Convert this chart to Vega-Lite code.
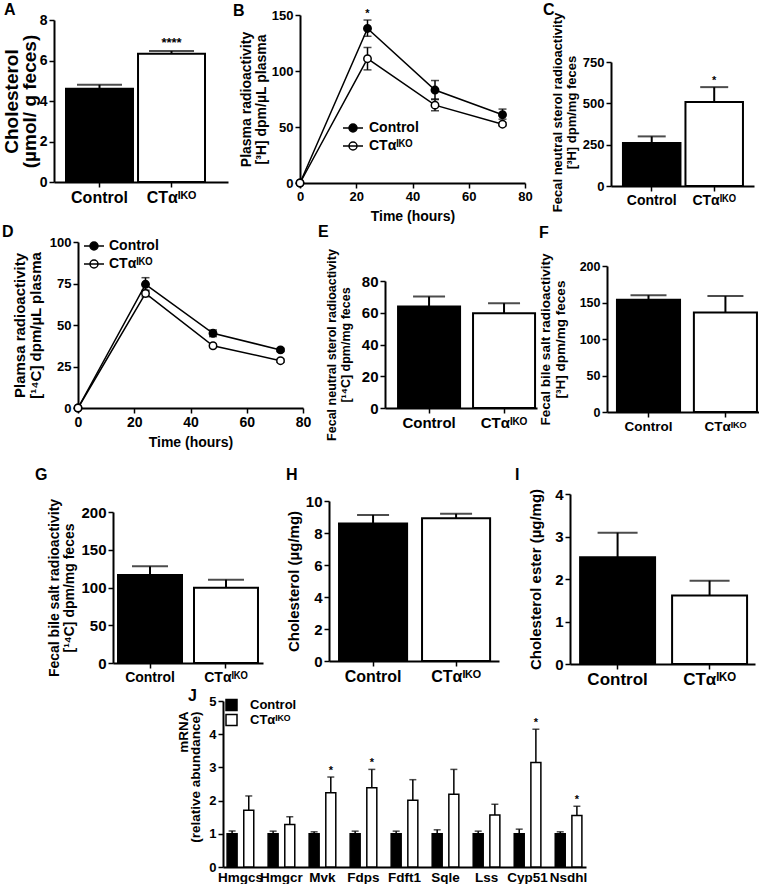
{
  "$schema": "https://vega.github.io/schema/vega-lite/v6.json",
  "background": "white",
  "padding": {"left": 1, "top": 1, "right": 0, "bottom": 0},
  "config": {
    "font": "Liberation Sans",
    "view": {"stroke": null},
    "axis": {"domainColor": "black", "domainWidth": 2, "tickColor": "black", "tickWidth": 1.5, "tickSize": 5, "labelColor": "black", "labelFontWeight": "bold", "titleColor": "black", "titleFontWeight": "bold", "labelPadding": 2, "grid": false, "labelFlush": false, "labelOverlap": false, "labelBound": false, "titleFont": "Liberation Sans", "labelFont": "Liberation Sans"},
    "title": {"anchor": "start", "frame": "group", "fontSize": 16, "fontWeight": "bold", "color": "black", "font": "Liberation Sans"},
    "legend": {"labelFont": "Liberation Sans", "labelColor": "black", "labelFontWeight": "bold", "padding": 0}
  },
  "datasets": {
    "A": [
      {"group": "Control", "value": 4.6, "hi": 4.8, "star": ""},
      {"group": "CTαᴵᴷᴼ", "value": 6.33, "hi": 6.47, "star": "****"}
    ],
    "B": [
      {"time": 0, "group": "Control", "mean": 0, "lo": 0, "hi": 0, "star": ""},
      {"time": 24, "group": "Control", "mean": 138, "lo": 131, "hi": 145.5, "star": "*"},
      {"time": 48, "group": "Control", "mean": 83, "lo": 75, "hi": 91.5, "star": ""},
      {"time": 72, "group": "Control", "mean": 61, "lo": 57, "hi": 66, "star": ""},
      {"time": 0, "group": "CTαᴵᴷᴼ", "mean": 0, "lo": 0, "hi": 0, "star": ""},
      {"time": 24, "group": "CTαᴵᴷᴼ", "mean": 111, "lo": 101, "hi": 121, "star": ""},
      {"time": 48, "group": "CTαᴵᴷᴼ", "mean": 69.5, "lo": 64.5, "hi": 74.5, "star": ""},
      {"time": 72, "group": "CTαᴵᴷᴼ", "mean": 52.5, "lo": 51, "hi": 54, "star": ""}
    ],
    "C": [
      {"group": "Control", "value": 260, "hi": 300, "star": ""},
      {"group": "CTαᴵᴷᴼ", "value": 508, "hi": 598, "star": "*"}
    ],
    "D": [
      {"time": 0, "group": "Control", "mean": 0, "lo": 0, "hi": 0},
      {"time": 24, "group": "Control", "mean": 74.5, "lo": 70.5, "hi": 78.5},
      {"time": 48, "group": "Control", "mean": 45, "lo": 43, "hi": 47},
      {"time": 72, "group": "Control", "mean": 35, "lo": 34, "hi": 36},
      {"time": 0, "group": "CTαᴵᴷᴼ", "mean": 0, "lo": 0, "hi": 0},
      {"time": 24, "group": "CTαᴵᴷᴼ", "mean": 69, "lo": 67, "hi": 71},
      {"time": 48, "group": "CTαᴵᴷᴼ", "mean": 37.5, "lo": 36.5, "hi": 38.5},
      {"time": 72, "group": "CTαᴵᴷᴼ", "mean": 28.5, "lo": 27.5, "hi": 29.5}
    ],
    "E": [
      {"group": "Control", "value": 63.9, "hi": 70.2},
      {"group": "CTαᴵᴷᴼ", "value": 59.7, "hi": 66}
    ],
    "F": [
      {"group": "Control", "value": 153.8, "hi": 160},
      {"group": "CTαᴵᴷᴼ", "value": 136.4, "hi": 158.8}
    ],
    "G": [
      {"group": "Control", "value": 116.5, "hi": 128},
      {"group": "CTαᴵᴷᴼ", "value": 99.7, "hi": 110.4}
    ],
    "H": [
      {"group": "Control", "value": 8.6, "hi": 9.13},
      {"group": "CTαᴵᴷᴼ", "value": 8.92, "hi": 9.2}
    ],
    "I": [
      {"group": "Control", "value": 2.51, "hi": 3.09},
      {"group": "CTαᴵᴷᴼ", "value": 1.61, "hi": 1.96}
    ],
    "J": [
      {"gene": "Hmgcs", "group": "Control", "value": 1, "hi": 1.085, "star": ""},
      {"gene": "Hmgcs", "group": "CTαᴵᴷᴼ", "value": 1.71, "hi": 2.14, "star": ""},
      {"gene": "Hmgcr", "group": "Control", "value": 1, "hi": 1.08, "star": ""},
      {"gene": "Hmgcr", "group": "CTαᴵᴷᴼ", "value": 1.28, "hi": 1.51, "star": ""},
      {"gene": "Mvk", "group": "Control", "value": 1, "hi": 1.06, "star": ""},
      {"gene": "Mvk", "group": "CTαᴵᴷᴼ", "value": 2.24, "hi": 2.71, "star": "*"},
      {"gene": "Fdps", "group": "Control", "value": 1, "hi": 1.08, "star": ""},
      {"gene": "Fdps", "group": "CTαᴵᴷᴼ", "value": 2.39, "hi": 2.94, "star": "*"},
      {"gene": "Fdft1", "group": "Control", "value": 1, "hi": 1.08, "star": ""},
      {"gene": "Fdft1", "group": "CTαᴵᴷᴼ", "value": 2.01, "hi": 2.63, "star": ""},
      {"gene": "Sqle", "group": "Control", "value": 1, "hi": 1.12, "star": ""},
      {"gene": "Sqle", "group": "CTαᴵᴷᴼ", "value": 2.19, "hi": 2.94, "star": ""},
      {"gene": "Lss", "group": "Control", "value": 1, "hi": 1.08, "star": ""},
      {"gene": "Lss", "group": "CTαᴵᴷᴼ", "value": 1.57, "hi": 1.89, "star": ""},
      {"gene": "Cyp51", "group": "Control", "value": 1, "hi": 1.14, "star": ""},
      {"gene": "Cyp51", "group": "CTαᴵᴷᴼ", "value": 3.15, "hi": 4.15, "star": "*"},
      {"gene": "Nsdhl", "group": "Control", "value": 1, "hi": 1.06, "star": ""},
      {"gene": "Nsdhl", "group": "CTαᴵᴷᴼ", "value": 1.55, "hi": 1.83, "star": "*"}
    ]
  },
  "spacing": 0,
  "resolve": {"scale": {"fill": "independent"}, "legend": {"fill": "independent"}},
  "vconcat": [
    {
      "spacing": 0,
      "resolve": {"scale": {"fill": "independent"}, "legend": {"fill": "independent"}},
      "hconcat": [
        {"width": 1, "height": 1, "data": {"values": []}, "mark": "point", "encoding": {}},
        {"spacing": 0, "resolve": {"scale": {"fill": "independent"}, "legend": {"fill": "independent"}}, "vconcat": [
          {"width": 1, "height": 1, "data": {"values": []}, "mark": "point", "encoding": {}},
          {
            "width": 174, "height": 162,
            "title": {"text": "A", "offset": -5, "dx": -50},
            "data": {"name": "A"},
            "encoding": {"x": {"field": "group", "type": "nominal", "scale": {"domain": ["Control", "CTαᴵᴷᴼ"], "paddingInner": 0.07, "paddingOuter": 0.243, "align": 0.343}, "axis": {"title": null, "labelAngle": 0, "labelFontSize": 16}}},
            "layer": [
              {"mark": {"type": "bar", "stroke": "black", "strokeWidth": 2}, "encoding": {"y": {"field": "value", "type": "quantitative", "scale": {"domain": [0, 8], "nice": false}, "axis": {"title": ["Cholesterol", "(µmol/ g feces)"], "values": [0, 2, 4, 6, 8], "tickCount": 20, "format": "d", "labelFontSize": 14, "titleFontSize": 19, "titleLineHeight": 18, "titlePadding": 0}}, "fill": {"field": "group", "type": "nominal", "scale": {"domain": ["Control", "CTαᴵᴷᴼ"], "range": ["black", "white"]}, "legend": null}}},
              {"mark": {"type": "rule", "color": "black", "strokeWidth": 2}, "encoding": {"y": {"field": "value", "type": "quantitative"}, "y2": {"field": "hi"}}},
              {"mark": {"type": "tick", "orient": "horizontal", "color": "black", "thickness": 2, "size": 45}, "encoding": {"y": {"field": "hi", "type": "quantitative"}}},
              {"mark": {"type": "text", "color": "black", "baseline": "bottom", "dy": -1, "fontSize": 13, "fontWeight": "bold"}, "encoding": {"y": {"field": "hi", "type": "quantitative"}, "text": {"field": "star"}}}
            ]
          }
        ]},
        {"width": 5, "height": 1, "data": {"values": []}, "mark": "point", "encoding": {}},
        {"spacing": 0, "resolve": {"scale": {"fill": "independent"}, "legend": {"fill": "independent"}}, "vconcat": [
          {"width": 1, "height": 1, "data": {"values": []}, "mark": "point", "encoding": {}},
          {
            "width": 225, "height": 168,
            "title": {"text": "B", "offset": -10.5, "dx": -67},
            "data": {"name": "B"},
            "layer": [
              {"mark": {"type": "line", "color": "black", "strokeWidth": 1.5}, "encoding": {"x": {"field": "time", "type": "quantitative", "scale": {"domain": [0, 80], "nice": false}, "axis": {"title": "Time (hours)", "values": [0, 20, 40, 60, 80], "tickCount": 20, "format": "d", "labelFontSize": 13, "titleFontSize": 14, "titlePadding": 6}}, "y": {"field": "mean", "type": "quantitative", "scale": {"domain": [0, 150], "nice": false}, "axis": {"title": ["Plasma radioactivity", "[³H] dpm/µL plasma"], "values": [0, 50, 100, 150], "tickCount": 20, "format": "d", "labelFontSize": 13, "titleFontSize": 14, "titleLineHeight": 15, "titlePadding": 3}}, "detail": {"field": "group"}}},
              {"transform": [{"filter": "datum.time > 0"}], "mark": {"type": "rule", "color": "black", "strokeWidth": 1.5}, "encoding": {"x": {"field": "time", "type": "quantitative"}, "y": {"field": "lo", "type": "quantitative"}, "y2": {"field": "hi"}}},
              {"transform": [{"filter": "datum.time > 0"}], "mark": {"type": "tick", "orient": "horizontal", "color": "black", "thickness": 1.5, "size": 8}, "encoding": {"x": {"field": "time", "type": "quantitative"}, "y": {"field": "hi", "type": "quantitative"}}},
              {"transform": [{"filter": "datum.time > 0"}], "mark": {"type": "tick", "orient": "horizontal", "color": "black", "thickness": 1.5, "size": 8}, "encoding": {"x": {"field": "time", "type": "quantitative"}, "y": {"field": "lo", "type": "quantitative"}}},
              {"mark": {"type": "point", "shape": "circle", "filled": true, "stroke": "black", "strokeWidth": 1.5, "size": 55, "opacity": 1}, "encoding": {"x": {"field": "time", "type": "quantitative"}, "y": {"field": "mean", "type": "quantitative"}, "fill": {"field": "group", "type": "nominal", "scale": {"domain": ["Control", "CTαᴵᴷᴼ"], "range": ["black", "white"]}, "legend": {"title": null, "orient": "none", "legendX": 42, "legendY": 102, "symbolType": "M-1,0L1,0M0.4,0A0.4,0.4,0,1,1,-0.4,0A0.4,0.4,0,1,1,0.4,0Z", "symbolSize": 400, "symbolStrokeColor": "black", "symbolStrokeWidth": 1.5, "symbolOpacity": 1, "labelFontSize": 14, "labelOffset": 5, "rowPadding": -2}}}},
              {"mark": {"type": "text", "color": "black", "baseline": "bottom", "dy": -1, "fontSize": 11, "fontWeight": "bold"}, "encoding": {"x": {"field": "time", "type": "quantitative"}, "y": {"field": "hi", "type": "quantitative"}, "text": {"field": "star"}}}
            ]
          }
        ]},
        {"width": 9.5, "height": 1, "data": {"values": []}, "mark": "point", "encoding": {}},
        {"spacing": 0, "resolve": {"scale": {"fill": "independent"}, "legend": {"fill": "independent"}}, "vconcat": [
          {"width": 1, "height": 1, "data": {"values": []}, "mark": "point", "encoding": {}},
          {
            "width": 143, "height": 124,
            "title": {"text": "C", "offset": -6, "dx": -68},
            "data": {"name": "C"},
            "encoding": {"x": {"field": "group", "type": "nominal", "scale": {"domain": ["Control", "CTαᴵᴷᴼ"], "paddingInner": 0.08, "paddingOuter": 0.184, "align": 0.52}, "axis": {"title": null, "labelAngle": 0, "labelFontSize": 14}}},
            "layer": [
              {"mark": {"type": "bar", "stroke": "black", "strokeWidth": 2}, "encoding": {"y": {"field": "value", "type": "quantitative", "scale": {"domain": [0, 750], "nice": false}, "axis": {"title": ["Fecal neutral sterol radioactivity", "[³H] dpm/mg feces"], "values": [0, 250, 500, 750], "tickCount": 20, "format": "d", "labelFontSize": 13, "titleFontSize": 13, "titleLineHeight": 14, "titlePadding": 4, "titleY": 50}}, "fill": {"field": "group", "type": "nominal", "scale": {"domain": ["Control", "CTαᴵᴷᴼ"], "range": ["black", "white"]}, "legend": null}}},
              {"mark": {"type": "rule", "color": "black", "strokeWidth": 2}, "encoding": {"y": {"field": "value", "type": "quantitative"}, "y2": {"field": "hi"}}},
              {"mark": {"type": "tick", "orient": "horizontal", "color": "black", "thickness": 2, "size": 28}, "encoding": {"y": {"field": "hi", "type": "quantitative"}}},
              {"mark": {"type": "text", "color": "black", "baseline": "bottom", "dy": -1, "fontSize": 11, "fontWeight": "bold"}, "encoding": {"y": {"field": "hi", "type": "quantitative"}, "text": {"field": "star"}}}
            ]
          }
        ]}
      ]
    },
    {
      "spacing": 0,
      "resolve": {"scale": {"fill": "independent"}, "legend": {"fill": "independent"}},
      "hconcat": [
        {"width": 1, "height": 1, "data": {"values": []}, "mark": "point", "encoding": {}},
        {"spacing": 0, "resolve": {"scale": {"fill": "independent"}, "legend": {"fill": "independent"}}, "vconcat": [
          {"width": 1, "height": 1, "data": {"values": []}, "mark": "point", "encoding": {}},
          {
            "width": 225, "height": 166,
            "title": {"text": "D", "offset": -5, "dx": -76},
            "data": {"name": "D"},
            "layer": [
              {"mark": {"type": "line", "color": "black", "strokeWidth": 1.5}, "encoding": {"x": {"field": "time", "type": "quantitative", "scale": {"domain": [0, 80], "nice": false}, "axis": {"title": "Time (hours)", "values": [0, 20, 40, 60, 80], "tickCount": 20, "format": "d", "labelFontSize": 14, "titleFontSize": 14, "titlePadding": 6}}, "y": {"field": "mean", "type": "quantitative", "scale": {"domain": [0, 100], "nice": false}, "axis": {"title": ["Plamsa radioactivity", "[¹⁴C] dpm/µL plasma"], "values": [0, 25, 50, 75, 100], "tickCount": 20, "format": "d", "labelFontSize": 13, "titleFontSize": 15, "titleLineHeight": 16, "titlePadding": 6}}, "detail": {"field": "group"}}},
              {"transform": [{"filter": "datum.time > 0"}], "mark": {"type": "rule", "color": "black", "strokeWidth": 1.5}, "encoding": {"x": {"field": "time", "type": "quantitative"}, "y": {"field": "lo", "type": "quantitative"}, "y2": {"field": "hi"}}},
              {"transform": [{"filter": "datum.time > 0"}], "mark": {"type": "tick", "orient": "horizontal", "color": "black", "thickness": 1.5, "size": 8}, "encoding": {"x": {"field": "time", "type": "quantitative"}, "y": {"field": "hi", "type": "quantitative"}}},
              {"transform": [{"filter": "datum.time > 0"}], "mark": {"type": "tick", "orient": "horizontal", "color": "black", "thickness": 1.5, "size": 8}, "encoding": {"x": {"field": "time", "type": "quantitative"}, "y": {"field": "lo", "type": "quantitative"}}},
              {"mark": {"type": "point", "shape": "circle", "filled": true, "stroke": "black", "strokeWidth": 1.5, "size": 55, "opacity": 1}, "encoding": {"x": {"field": "time", "type": "quantitative"}, "y": {"field": "mean", "type": "quantitative"}, "fill": {"field": "group", "type": "nominal", "scale": {"domain": ["Control", "CTαᴵᴷᴼ"], "range": ["black", "white"]}, "legend": {"title": null, "orient": "none", "legendX": 5, "legendY": -7, "symbolType": "M-1,0L1,0M0.4,0A0.4,0.4,0,1,1,-0.4,0A0.4,0.4,0,1,1,0.4,0Z", "symbolSize": 400, "symbolStrokeColor": "black", "symbolStrokeWidth": 1.5, "symbolOpacity": 1, "labelFontSize": 14, "labelOffset": 4, "rowPadding": 0}}}}
            ]
          }
        ]},
        {"width": 7, "height": 1, "data": {"values": []}, "mark": "point", "encoding": {}},
        {"spacing": 0, "resolve": {"scale": {"fill": "independent"}, "legend": {"fill": "independent"}}, "vconcat": [
          {"width": 1, "height": 1, "data": {"values": []}, "mark": "point", "encoding": {}},
          {
            "width": 152, "height": 127,
            "title": {"text": "E", "offset": 8.6, "dx": -67},
            "data": {"name": "E"},
            "encoding": {"x": {"field": "group", "type": "nominal", "scale": {"domain": ["Control", "CTαᴵᴷᴼ"], "paddingInner": 0.173, "paddingOuter": 0.1, "align": 0.87}, "axis": {"title": null, "labelAngle": 0, "labelFontSize": 15}}},
            "layer": [
              {"mark": {"type": "bar", "stroke": "black", "strokeWidth": 2}, "encoding": {"y": {"field": "value", "type": "quantitative", "scale": {"domain": [0, 80], "nice": false}, "axis": {"title": ["Fecal neutral sterol radioactivity", "[¹⁴C] dpm/mg feces"], "values": [0, 20, 40, 60, 80], "tickCount": 20, "format": "d", "labelFontSize": 15, "titleFontSize": 12.5, "titleLineHeight": 13.5, "titlePadding": 9}}, "fill": {"field": "group", "type": "nominal", "scale": {"domain": ["Control", "CTαᴵᴷᴼ"], "range": ["black", "white"]}, "legend": null}}},
              {"mark": {"type": "rule", "color": "black", "strokeWidth": 2}, "encoding": {"y": {"field": "value", "type": "quantitative"}, "y2": {"field": "hi"}}},
              {"mark": {"type": "tick", "orient": "horizontal", "color": "black", "thickness": 2, "size": 32}, "encoding": {"y": {"field": "hi", "type": "quantitative"}}}
            ]
          }
        ]},
        {"width": 1, "height": 1, "data": {"values": []}, "mark": "point", "encoding": {}},
        {"spacing": 0, "resolve": {"scale": {"fill": "independent"}, "legend": {"fill": "independent"}}, "vconcat": [
          {"width": 1, "height": 1, "data": {"values": []}, "mark": "point", "encoding": {}},
          {
            "width": 152, "height": 146,
            "title": {"text": "F", "offset": 12.1, "dx": -68},
            "data": {"name": "F"},
            "encoding": {"x": {"field": "group", "type": "nominal", "scale": {"domain": ["Control", "CTαᴵᴷᴼ"], "paddingInner": 0.18, "paddingOuter": 0.078, "align": 0.83}, "axis": {"title": null, "labelAngle": 0, "labelFontSize": 13.5}}},
            "layer": [
              {"mark": {"type": "bar", "stroke": "black", "strokeWidth": 2}, "encoding": {"y": {"field": "value", "type": "quantitative", "scale": {"domain": [0, 200], "nice": false}, "axis": {"title": ["Fecal bile salt radioactivity", "[³H] dpm/mg feces"], "values": [0, 50, 100, 150, 200], "tickCount": 20, "format": "d", "labelFontSize": 12.5, "titleFontSize": 13.5, "titleLineHeight": 14.5, "titlePadding": 12}}, "fill": {"field": "group", "type": "nominal", "scale": {"domain": ["Control", "CTαᴵᴷᴼ"], "range": ["black", "white"]}, "legend": null}}},
              {"mark": {"type": "rule", "color": "black", "strokeWidth": 2}, "encoding": {"y": {"field": "value", "type": "quantitative"}, "y2": {"field": "hi"}}},
              {"mark": {"type": "tick", "orient": "horizontal", "color": "black", "thickness": 2, "size": 36}, "encoding": {"y": {"field": "hi", "type": "quantitative"}}}
            ]
          }
        ]}
      ]
    },
    {
      "spacing": 0,
      "resolve": {"scale": {"fill": "independent"}, "legend": {"fill": "independent"}},
      "hconcat": [
        {"width": 34, "height": 1, "data": {"values": []}, "mark": "point", "encoding": {}},
        {"spacing": 0, "resolve": {"scale": {"fill": "independent"}, "legend": {"fill": "independent"}}, "vconcat": [
          {"width": 1, "height": 17, "data": {"values": []}, "mark": "point", "encoding": {}},
          {
            "width": 150, "height": 151,
            "title": {"text": "G", "offset": 15.5, "dx": -78},
            "data": {"name": "G"},
            "encoding": {"x": {"field": "group", "type": "nominal", "scale": {"domain": ["Control", "CTαᴵᴷᴼ"], "paddingInner": 0.158, "paddingOuter": 0.066, "align": 0.5}, "axis": {"title": null, "labelAngle": 0, "labelFontSize": 14}}},
            "layer": [
              {"mark": {"type": "bar", "stroke": "black", "strokeWidth": 2}, "encoding": {"y": {"field": "value", "type": "quantitative", "scale": {"domain": [0, 200], "nice": false}, "axis": {"title": ["Fecal bile salt radioactivity", "[¹⁴C] dpm/mg feces"], "values": [0, 50, 100, 150, 200], "tickCount": 20, "format": "d", "labelFontSize": 15, "titleFontSize": 14, "titleLineHeight": 15, "titlePadding": 4}}, "fill": {"field": "group", "type": "nominal", "scale": {"domain": ["Control", "CTαᴵᴷᴼ"], "range": ["black", "white"]}, "legend": null}}},
              {"mark": {"type": "rule", "color": "black", "strokeWidth": 2}, "encoding": {"y": {"field": "value", "type": "quantitative"}, "y2": {"field": "hi"}}},
              {"mark": {"type": "tick", "orient": "horizontal", "color": "black", "thickness": 2, "size": 36}, "encoding": {"y": {"field": "hi", "type": "quantitative"}}}
            ]
          }
        ]},
        {"width": 23, "height": 1, "data": {"values": []}, "mark": "point", "encoding": {}},
        {"spacing": 0, "resolve": {"scale": {"fill": "independent"}, "legend": {"fill": "independent"}}, "vconcat": [
          {"width": 1, "height": 17, "data": {"values": []}, "mark": "point", "encoding": {}},
          {
            "width": 170, "height": 160,
            "title": {"text": "H", "offset": 11.5, "dx": -43},
            "data": {"name": "H"},
            "encoding": {"x": {"field": "group", "type": "nominal", "scale": {"domain": ["Control", "CTαᴵᴷᴼ"], "paddingInner": 0.18, "paddingOuter": 0.114, "align": 0.53}, "axis": {"title": null, "labelAngle": 0, "labelFontSize": 16}}},
            "layer": [
              {"mark": {"type": "bar", "stroke": "black", "strokeWidth": 2}, "encoding": {"y": {"field": "value", "type": "quantitative", "scale": {"domain": [0, 10], "nice": false}, "axis": {"title": "Cholesterol (µg/mg)", "values": [0, 2, 4, 6, 8, 10], "tickCount": 20, "format": "d", "labelFontSize": 15, "titleFontSize": 15, "titlePadding": 4}}, "fill": {"field": "group", "type": "nominal", "scale": {"domain": ["Control", "CTαᴵᴷᴼ"], "range": ["black", "white"]}, "legend": null}}},
              {"mark": {"type": "rule", "color": "black", "strokeWidth": 2}, "encoding": {"y": {"field": "value", "type": "quantitative"}, "y2": {"field": "hi"}}},
              {"mark": {"type": "tick", "orient": "horizontal", "color": "black", "thickness": 2, "size": 32}, "encoding": {"y": {"field": "hi", "type": "quantitative"}}}
            ]
          }
        ]},
        {"width": 16, "height": 1, "data": {"values": []}, "mark": "point", "encoding": {}},
        {"spacing": 0, "resolve": {"scale": {"fill": "independent"}, "legend": {"fill": "independent"}}, "vconcat": [
          {"width": 1, "height": 17, "data": {"values": []}, "mark": "point", "encoding": {}},
          {
            "width": 185, "height": 170,
            "title": {"text": "I", "offset": 4.5, "dx": -55},
            "data": {"name": "I"},
            "encoding": {"x": {"field": "group", "type": "nominal", "scale": {"domain": ["Control", "CTαᴵᴷᴼ"], "paddingInner": 0.185, "paddingOuter": 0.098, "align": 0.56}, "axis": {"title": null, "labelAngle": 0, "labelFontSize": 17}}},
            "layer": [
              {"mark": {"type": "bar", "stroke": "black", "strokeWidth": 2}, "encoding": {"y": {"field": "value", "type": "quantitative", "scale": {"domain": [0, 4], "nice": false}, "axis": {"title": "Cholesterol ester (µg/mg)", "values": [0, 1, 2, 3, 4], "tickCount": 20, "format": "d", "labelFontSize": 15, "titleFontSize": 15, "titlePadding": 11}}, "fill": {"field": "group", "type": "nominal", "scale": {"domain": ["Control", "CTαᴵᴷᴼ"], "range": ["black", "white"]}, "legend": null}}},
              {"mark": {"type": "rule", "color": "black", "strokeWidth": 2}, "encoding": {"y": {"field": "value", "type": "quantitative"}, "y2": {"field": "hi"}}},
              {"mark": {"type": "tick", "orient": "horizontal", "color": "black", "thickness": 2, "size": 40}, "encoding": {"y": {"field": "hi", "type": "quantitative"}}}
            ]
          }
        ]}
      ]
    },
    {
      "spacing": 0,
      "resolve": {"scale": {"fill": "independent"}, "legend": {"fill": "independent"}},
      "hconcat": [
        {"width": 175, "height": 1, "data": {"values": []}, "mark": "point", "encoding": {}},
        {"spacing": 0, "resolve": {"scale": {"fill": "independent"}, "legend": {"fill": "independent"}}, "vconcat": [
          {"width": 1, "height": 1, "data": {"values": []}, "mark": "point", "encoding": {}},
          {
            "width": 363, "height": 166,
            "title": {"text": "J", "offset": -9, "dx": -35},
            "data": {"name": "J"},
            "encoding": {
              "x": {"field": "gene", "type": "nominal", "scale": {"domain": ["Hmgcs", "Hmgcr", "Mvk", "Fdps", "Fdft1", "Sqle", "Lss", "Cyp51", "Nsdhl"], "paddingInner": 0.35, "paddingOuter": 0.1}, "axis": {"title": null, "labelAngle": 0, "labelFontSize": 13.5, "ticks": false, "labelPadding": 3}},
              "xOffset": {"field": "group", "type": "nominal", "scale": {"domain": ["Control", "CTαᴵᴷᴼ"], "paddingInner": 0.4, "paddingOuter": 0}}
            },
            "layer": [
              {"mark": {"type": "bar", "stroke": "black", "strokeWidth": 1.5}, "encoding": {"y": {"field": "value", "type": "quantitative", "scale": {"domain": [0, 5], "nice": false}, "axis": {"title": ["mRNA", "(relative abundance)"], "values": [0, 1, 2, 3, 4, 5], "tickCount": 20, "format": "d", "labelFontSize": 13, "titleFontSize": 13.5, "titleLineHeight": 12, "titlePadding": 6, "titleAlign": "right", "titleAnchor": "end", "titleY": 10}}, "fill": {"field": "group", "type": "nominal", "scale": {"domain": ["Control", "CTαᴵᴷᴼ"], "range": ["black", "white"]}, "legend": {"title": null, "orient": "none", "legendX": 2, "legendY": -2.5, "symbolType": "square", "symbolSize": 121, "symbolStrokeColor": "black", "symbolStrokeWidth": 1.5, "symbolOpacity": 1, "labelFontSize": 13, "labelOffset": 12, "rowPadding": -2}}}},
              {"mark": {"type": "rule", "color": "black", "strokeWidth": 1.5}, "encoding": {"y": {"field": "value", "type": "quantitative"}, "y2": {"field": "hi"}}},
              {"mark": {"type": "tick", "orient": "horizontal", "color": "black", "thickness": 1.5, "size": 7}, "encoding": {"y": {"field": "hi", "type": "quantitative"}}},
              {"mark": {"type": "text", "color": "black", "baseline": "bottom", "dy": -1, "fontSize": 11, "fontWeight": "bold"}, "encoding": {"y": {"field": "hi", "type": "quantitative"}, "text": {"field": "star"}}}
            ]
          }
        ]}
      ]
    }
  ]
}
